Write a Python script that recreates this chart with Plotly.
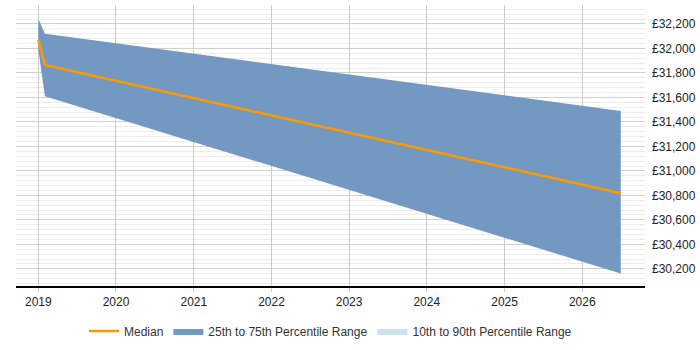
import plotly.graph_objects as go

dates = ["2019-01-01", "2019-02-01", "2026-07-01"]
median = [32070, 31866, 30818]
p25 = [31990, 31610, 30162]
p75 = [32240, 32120, 31490]

tick_vals = [30200, 30400, 30600, 30800, 31000, 31200, 31400, 31600, 31800, 32000, 32200]
tick_text = ["£{:,}".format(v) for v in tick_vals]
year_ticks = ["2019-01-01", "2020-01-01", "2021-01-01", "2022-01-01", "2023-01-01",
              "2024-01-01", "2025-01-01", "2026-01-01"]
year_labels = ["2019", "2020", "2021", "2022", "2023", "2024", "2025", "2026"]

band_color = "#7398c1"

fig = go.Figure()
fig.add_trace(go.Scatter(x=dates, y=p25, mode="lines", line=dict(width=0, color=band_color),
                         showlegend=False, hoverinfo="skip"))
fig.add_trace(go.Scatter(x=dates, y=p75, mode="lines", line=dict(width=0, color=band_color),
                         fill="tonexty", fillcolor=band_color,
                         name="25th to 75th Percentile Range", legendrank=2))
fig.add_trace(go.Scatter(x=[None], y=[None], mode="lines", line=dict(width=0, color="#cfe0f0"),
                         fill="toself", fillcolor="#cfe0f0",
                         name="10th to 90th Percentile Range", legendrank=3))
fig.add_trace(go.Scatter(x=dates, y=median, mode="lines", line=dict(width=2.5, color="#ff9900"),
                         name="Median", legendrank=1))

fig.update_layout(
    width=700, height=350,
    margin=dict(l=16, r=55, t=5, b=58),
    paper_bgcolor="white", plot_bgcolor="white",
    font=dict(family="Liberation Sans, Arial, sans-serif", size=12, color="#222"),
    legend=dict(orientation="h", x=0.5, xanchor="center", y=-0.16, yanchor="middle",
                font=dict(size=12, color="#333"), traceorder="normal", itemwidth=30),
    xaxis=dict(
        type="date",
        range=["2018-09-18", "2026-10-23"],
        tickvals=year_ticks, ticktext=year_labels,
        showgrid=True, gridcolor="#cccccc", gridwidth=1,
        showline=True, linecolor="#000", linewidth=1.5,
        ticks="outside", ticklen=4, tickcolor="#cccccc",
        zeroline=False,
    ),
    yaxis=dict(
        side="right",
        range=[30060, 32355],
        tickvals=tick_vals, ticktext=tick_text,
        showgrid=True, gridcolor="#d0d0d0", gridwidth=1,
        minor=dict(dtick=40, tick0=30200, showgrid=True, gridcolor="#ececec", gridwidth=1),
        zeroline=False, showline=False,
        ticks="", ticklabelstandoff=6,
    ),
)

fig.write_html("out.html")
